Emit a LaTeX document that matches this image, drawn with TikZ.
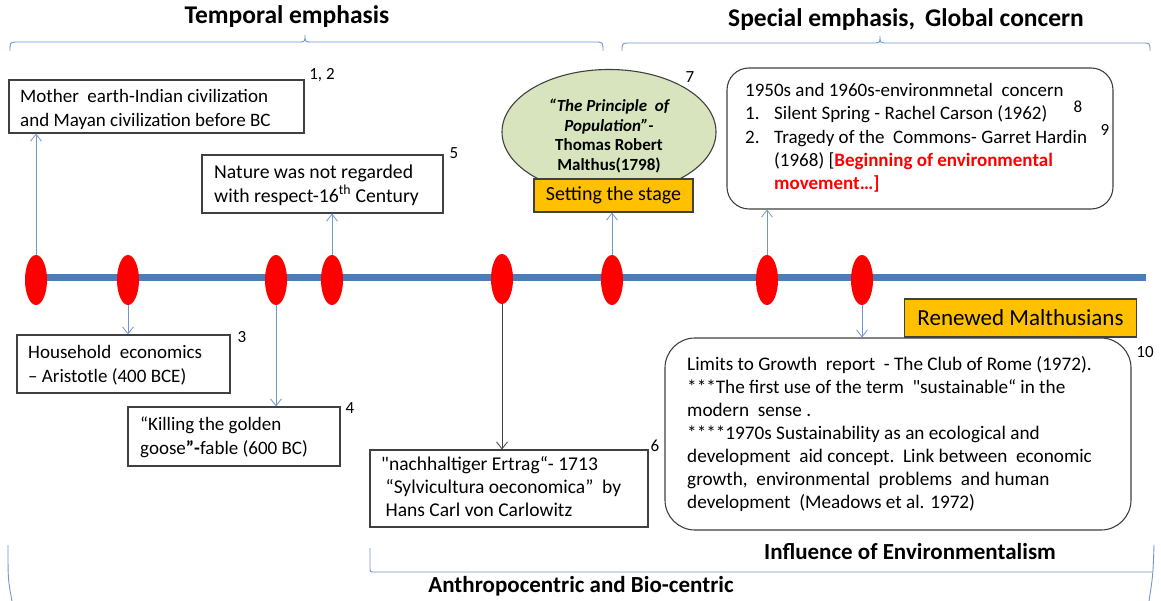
\documentclass[tikz,border=0pt]{standalone}
\usepackage{fontspec}
\setmainfont{Carlito}[Ligatures=TeXOff]
\usetikzlibrary{arrows.meta,shapes.geometric}
\definecolor{tblue}{HTML}{4A7EBB}
\definecolor{lblue}{HTML}{7096CC}
\definecolor{tred}{HTML}{FF0000}
\definecolor{tgreen}{HTML}{D7E4BD}
\definecolor{torange}{HTML}{FFC000}
\definecolor{bgray}{HTML}{404040}
\tikzset{
  box/.style={draw=bgray, line width=1.1pt, fill=white, inner sep=0pt},
  rbox/.style={box, rounded corners=22pt},
  obox/.style={draw=bgray, line width=1.1pt, fill=torange, inner sep=0pt},
  dot/.style={ellipse, fill=tred, draw=none, minimum width=22pt, minimum height=50pt, inner sep=0pt},
  conn/.style={draw=lblue, line width=0.8pt, -{Straight Barb[length=7pt,width=11pt]}},
  kconn/.style={draw=bgray, line width=0.8pt, -{Straight Barb[length=7pt,width=11pt]}},
  brace/.style={draw=lblue, line width=0.9pt},
  txt/.style={inner sep=0pt, anchor=west, align=left, font=\fontsize{19}{24}\selectfont},
  num/.style={inner sep=0pt, font=\fontsize{17}{19}\selectfont},
  ttl/.style={inner sep=0pt, font=\fontsize{25.5}{28}\selectfont\bfseries},
  sttl/.style={inner sep=0pt, font=\fontsize{23}{26}\selectfont\bfseries}
}
\begin{document}
\begin{tikzpicture}[x=1pt,y=-1pt]
\useasboundingbox (0,0) rectangle (1161,601);
% titles and braces
\node[ttl] (t1) at (287,17) {Temporal emphasis};
\node[ttl] (t2) at (906,20) {Special emphasis,\, Global concern};
\draw[brace] (10,51) .. controls (10,42) .. (18,42) -- (298,42) .. controls (305,42) .. (305,35)
  .. controls (305,42) .. (312,42) -- (595,42) .. controls (603,42) .. (603,51);
\draw[brace] (622,51) .. controls (622,43) .. (630,43) -- (873,43) .. controls (880,43) .. (880,36)
  .. controls (880,43) .. (887,43) -- (1142,43) .. controls (1150,43) .. (1150,51);
% timeline
\draw[tblue, line width=7pt] (30,278) -- (1146,278);
\node[dot] (e1) at (36,280) {};
\node[dot] (e2) at (128,280) {};
\node[dot] (e3) at (276,280) {};
\node[dot] (e4) at (332,280) {};
\node[dot] (e5) at (502,279) {};
\node[dot] (e6) at (612,280) {};
\node[dot] (e7) at (767,280) {};
\node[dot] (e8) at (862,280) {};
% upper items
\node[box, minimum width=295pt, minimum height=53pt] (b1) at (156.5,106.5) {};
\node[txt] (b1t) at (20,109) {Mother\ \ earth-Indian civilization\\and Mayan civilization before BC};
\node[num] (n12) at (322,75) {1, 2};
\node[box, minimum width=241pt, minimum height=58pt] (b5) at (322.5,184) {};
\node[txt, font=\fontsize{19.7}{24}\selectfont] (b5t) at (214,185) {Nature was not regarded\\with respect-16\textsuperscript{th} Century};
\node[num] (n5) at (454,153) {5};
\node[ellipse, draw=bgray, line width=1.1pt, fill=tgreen, minimum width=214pt, minimum height=125pt, inner sep=0pt] (mal) at (609,132) {};
\node[inner sep=0pt, align=center, font=\fontsize{17}{19.6}\selectfont\bfseries] (malt) at (609,136) {\itshape “The Principle\ \ of\\\itshape Population”-\\Thomas Robert\\Malthus(1798)};
\node[num] (n7) at (690,77) {7};
\node[obox, minimum width=159pt, minimum height=33pt, font=\fontsize{20}{22}\selectfont] (stage) at (613.5,195.5) {Setting the stage};
\node[rbox, minimum width=386pt, minimum height=141pt] (b8) at (920,138.5) {};
\node[txt, font=\fontsize{19}{23.2}\selectfont] (b8t) at (745,138) {1950s and 1960s-environmnetal\ \ concern\\
\makebox[29pt][l]{1.}Silent Spring - Rachel Carson (1962)\\
\makebox[29pt][l]{2.}Tragedy of the\ \ Commons- Garret Hardin\\
\hspace*{29pt}(1968) [{\color{tred}\bfseries Beginning of environmental}\\
\hspace*{29pt}{\color{tred}\bfseries movement…]}};
\node[num] (n8) at (1078,107) {8};
\node[num] (n9) at (1105,130) {9};
% lower items
\node[box, minimum width=213pt, minimum height=58pt] (b3) at (123.5,364) {};
\node[txt] (b3t) at (28,365) {Household\ \ economics\\– Aristotle (400 BCE)};
\node[num] (n3) at (242,337) {3};
\node[box, minimum width=212pt, minimum height=59pt] (b4) at (234,436.5) {};
\node[txt] (b4t) at (140,437) {“Killing the golden\\goose{\bfseries ”-}fable (600 BC)};
\node[num] (n4) at (350,408) {4};
\node[box, minimum width=278pt, minimum height=77pt] (b6) at (509,488.5) {};
\node[txt, font=\fontsize{19.5}{23}\selectfont] (b6t) at (381,487) {"nachhaltiger Ertrag“- 1713\\\ “Sylvicultura oeconomica”\ \ by\\\ Hans Carl von Carlowitz};
\node[num] (n6) at (655,446) {6};
\node[obox, minimum width=232pt, minimum height=38pt, font=\fontsize{23}{26}\selectfont] (ren) at (1020.5,318) {Renewed Malthusians};
\node[rbox, rounded corners=30pt, minimum width=466pt, minimum height=192pt] (b10) at (898,434) {};
\node[txt, font=\fontsize{19.2}{23}\selectfont] (b10t) at (687,434) {Limits to Growth\ \ report\ \ - The Club of Rome (1972).\\
***The first use of the term\ \ "sustainable“ in the\\
modern\ \ sense .\\
****1970s Sustainability as an ecological and\\
development\ \ aid concept.\ \ Link between\ \ economic\\
growth,\ \ environmental\ \ problems\ \ and human\\
development\ \ (Meadows et al. 1972)};
\node[num] (n10) at (1145,352) {10};
% connectors
\draw[conn] (e1.north) -- (e1.north |- b1.south);
\draw[conn] (e4.north) -- (e4.north |- b5.south);
\draw[conn] (e6.north) -- (e6.north |- stage.south);
\draw[conn] (e7.north) -- (e7.north |- b8.south);
\draw[conn] (e2.south) -- (e2.south |- b3.north);
\draw[conn] (e3.south) -- (e3.south |- b4.north);
\draw[kconn] (e5.south) -- (e5.south |- b6.north);
\draw[conn] (e8.south) -- (e8.south |- b10.north);
% bottom
\node[sttl] (inf) at (910,552) {Influence of Environmentalism};
\node[sttl] (anth) at (581,586) {Anthropocentric and Bio-centric};
\draw[brace] (370,548) -- (370,568) .. controls (370,572) .. (375,572) -- (1152,572);
\draw[brace] (1154,545) .. controls (1153,575) .. (1149,601);
\draw[brace] (8,545) .. controls (8,580) .. (12,601);
\end{tikzpicture}
\end{document}
